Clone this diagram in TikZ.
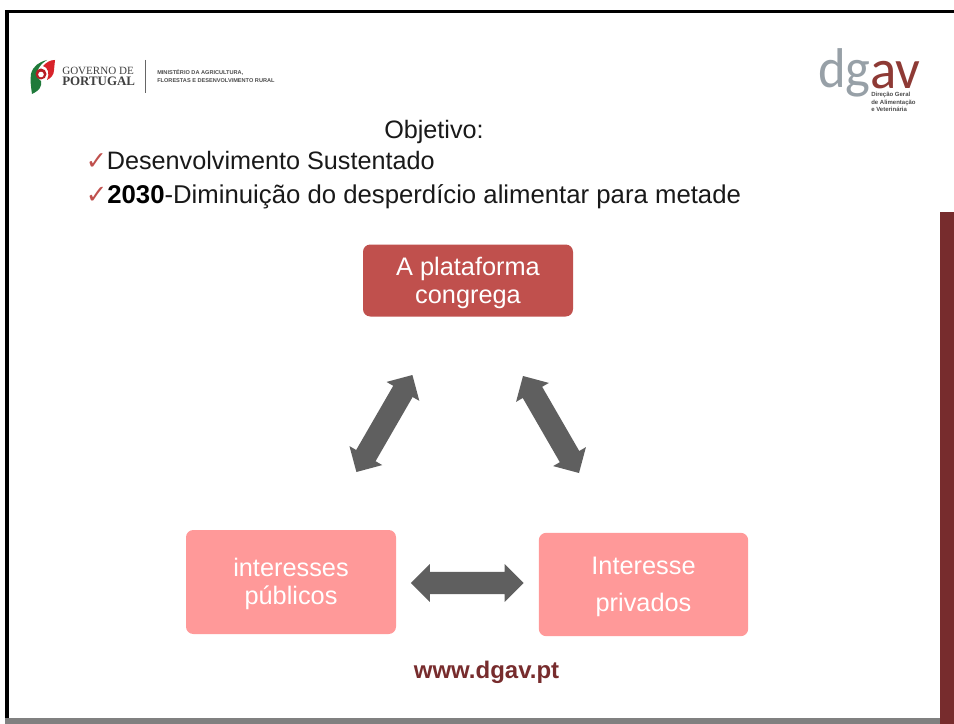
\documentclass[tikz,border=0pt]{standalone}
\usepackage{fontspec}
\setmainfont{Liberation Sans}
\newfontfamily\djvfont{DejaVu Sans}
\newfontfamily\carfont{Carlito}
\newfontfamily\serifxfont{Liberation Serif}
\usetikzlibrary{shapes.arrows}
\definecolor{wine}{HTML}{772C2D}
\definecolor{avred}{HTML}{8E3A35}
\definecolor{boxred}{HTML}{C0504D}
\definecolor{boxpink}{HTML}{FF9999}
\definecolor{arrowgrey}{HTML}{5F5F5F}
\definecolor{logogrey}{HTML}{97A0A7}
\definecolor{pgreen}{HTML}{1F7A3A}
\definecolor{pred}{HTML}{D8232A}
\tikzset{
  roundbox/.style={rounded corners=5.5pt,inner sep=0pt,align=center,text=white,font=\fontsize{19}{21}\selectfont},
  blockarrow/.style={shape=double arrow,fill=arrowgrey,inner xsep=0pt,inner ysep=8.2pt,double arrow head extend=5.8pt,double arrow tip angle=90,anchor=center},
  bodytext/.style={anchor=base west,inner sep=0pt,text=black!90,font=\fontsize{18.9}{21}\selectfont},
  plain/.style={inner sep=0pt,anchor=base west}
}
\newcommand{\chk}{{\djvfont\color{boxred}\char"2713}}
\newcommand{\lowerline}{\rule{0pt}{17pt}}
\begin{document}
\begin{tikzpicture}[x=0.75pt,y=-0.75pt]
\useasboundingbox (0,0) rectangle (954,724);
\fill[white] (0,0) rectangle (954,724);
% frame
\fill[black] (5,10) rectangle (954,13.5);
\fill[black] (5,10) rectangle (9,718);
\fill[black!50] (5,718) rectangle (954,724);
\fill[wine] (940,212) rectangle (954,724);
% Governo logo
\fill[pgreen] (47,60) .. controls (39,62) and (33,66) .. (31,74) .. controls (30,80) and (31,87) .. (32,94) .. controls (36,92) and (40,90) .. (41,85) -- (41,81) .. controls (34,76) and (37,66) .. (47,60) -- cycle;
\fill[pred] (55,60) .. controls (50,60) and (47,62) .. (43,66) .. controls (48,67) and (50,74) .. (47,80) .. controls (51,78) and (54,75) .. (54,70) -- cycle;
\fill[pred!85!black] (41,74) circle (5.5);
\fill[white] (41,74.5) circle (2.8);
\node[plain] (gov1) at (62,74.5) {\serifxfont\color{black!75}\fontsize{8.3}{9}\selectfont GOVERNO DE};
\node[plain] (gov2) at (62,86) {\serifxfont\bfseries\color{black!75}\fontsize{9.7}{10}\selectfont PORTUGAL};
\draw[black!60,line width=0.5pt] (145.5,60) -- (145.5,93);
\node[plain] (min1) at (157,75) {\bfseries\color{black!70}\fontsize{4.2}{5}\selectfont MINISTÉRIO DA AGRICULTURA,};
\node[plain] (min2) at (157,83) {\bfseries\color{black!70}\fontsize{4.2}{5}\selectfont FLORESTAS E DESENVOLVIMENTO RURAL};
% dgav logo
\node[plain,xscale=0.94] (dg) at (818,88) {\carfont\color{logogrey}\fontsize{42}{42}\selectfont dg};
\node[plain,xscale=0.98] (av) at (870,89) {\carfont\color{avred}\fontsize{42}{42}\selectfont av};
\node[plain] (d1) at (871,96.5) {\bfseries\color{black!70}\fontsize{4.5}{5}\selectfont Direção Geral};
\node[plain] (d2) at (871,104) {\bfseries\color{black!70}\fontsize{4.5}{5}\selectfont de Alimentação};
\node[plain] (d3) at (871,111.5) {\bfseries\color{black!70}\fontsize{4.5}{5}\selectfont e Veterinária};
% heading text
\node[bodytext] (obj) at (384,138) {Objetivo:};
\node[bodytext] (l1) at (85.5,170) {\chk Desenvolvimento Sustentado};
\node[bodytext,font=\fontsize{19.3}{21}\selectfont] (l2) at (85.5,203) {\chk {\color{black}\bfseries 2030}-Diminuição do desperdício alimentar para metade};
% boxes
\node[roundbox,fill=boxred,minimum width=157.5pt,minimum height=54pt] (top) at (468,280.5) {\lowerline A plataforma\\congrega};
\node[roundbox,fill=boxpink,minimum width=157.5pt,minimum height=78pt] (pub) at (291,582) {\lowerline interesses\\públicos};
\node[roundbox,fill=boxpink,minimum width=157pt,minimum height=77.5pt] (priv) at (643.5,584.5) {\lowerline Interesse\\[7pt]privados};
% arrows
\node[blockarrow,minimum height=84pt,rotate=60] (a1) at (384.4,423.5) {};
\node[blockarrow,minimum height=84pt,rotate=-60] (a2) at (551,424.5) {};
\node[blockarrow,minimum height=84.5pt] (a3) at (467.3,583) {};
\node[plain,anchor=center] (web) at (486.5,672.5) {\bfseries\color{wine}\fontsize{18}{20}\selectfont www.dgav.pt};
\end{tikzpicture}
\end{document}
